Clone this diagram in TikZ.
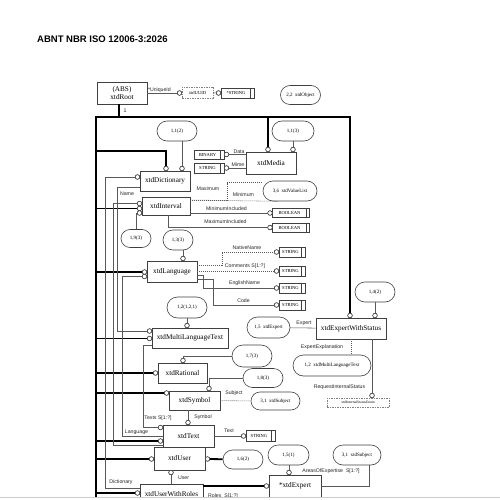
\documentclass[tikz,border=0pt]{standalone}
\usepackage{fontspec}
\setmainfont{Liberation Serif}
\newfontfamily\lab{Liberation Sans}
\usetikzlibrary{shapes.misc}
\begin{document}
\begin{tikzpicture}[x=1pt,y=-1pt,
  cls/.style={draw=black!75, line width=0.6pt, fill=white, inner sep=0pt, font=\fontsize{7.2}{8}\selectfont},
  dcls/.style={draw=black!50, line width=0.5pt, dash pattern=on 1.5pt off 1pt, fill=white, inner sep=0pt},
  ref/.style={rounded rectangle, draw=black!75, line width=0.6pt, fill=white, inner sep=0pt, font=\fontsize{5}{6}\selectfont},
  typ/.style={draw=black!75, line width=0.5pt, fill=white, inner sep=0pt, minimum width=26pt, minimum height=10pt,
    font=\fontsize{4.6}{5}\selectfont,
    path picture={\draw[black!75, line width=0.4pt] ([xshift=-3.5pt]path picture bounding box.north east) -- ([xshift=-3.5pt]path picture bounding box.south east);}},
  circ/.style={circle, draw=black!80, fill=white, line width=0.5pt, inner sep=0pt, minimum size=4.5pt},
  bus/.style={line width=1.8pt, black},
  rel/.style={line width=0.55pt, black!65},
  opt/.style={rel, dash pattern=on 1pt off 1pt},
  lbl/.style={font=\lab\fontsize{5.2}{6}\selectfont, inner sep=0.3pt, text=black!85}
]
\useasboundingbox (0,0) rectangle (500,500);
\fill[white] (0,0) rectangle (500,500);

% title
\node[anchor=west, inner sep=0pt, font=\lab\bfseries\fontsize{9.5}{10}\selectfont] (title) at (37,39) {ABNT NBR ISO 12006-3:2026};

% ---------- nodes ----------
\node[cls, minimum width=50pt, minimum height=22pt, align=center] (root) at (122,93) {(ABS)\\xtdRoot};
\node[dcls, minimum width=31pt, minimum height=11pt, font=\fontsize{4.6}{5}\selectfont] (uuid) at (197.5,92.5) {xtdUUID};
\node[typ, minimum width=33pt] (str0) at (237.5,93) {*STRING\hspace*{3pt}};

\node[ref, minimum width=40pt, minimum height=19pt] (ovC) at (300.5,95) {2,2\ \ xtdObject};

\node[ref, minimum width=40pt, minimum height=20pt] (ovA) at (177,131) {1,1(2)};
\node[ref, minimum width=42pt, minimum height=20pt] (ovB) at (293,131) {1,1(3)};

\node[cls, minimum width=50pt, minimum height=20pt] (dict) at (165,181) {xtdDictionary};
\node[cls, minimum width=50pt, minimum height=22pt] (media) at (271,163) {xtdMedia};
\node[typ, minimum width=30pt, minimum height=9pt] (bin) at (209,154.5) {BINARY\hspace*{3pt}};
\node[typ, minimum width=30pt] (strM) at (209,168) {STRING\hspace*{3pt}};

\node[cls, minimum width=48pt, minimum height=18pt] (int) at (166,206) {xtdInterval};
\node[ref, minimum width=54pt, minimum height=20pt] (ovE) at (290,191) {3,6\ \ xtdValueList};
\node[typ, minimum width=37pt, minimum height=9pt] (bo1) at (291,213) {BOOLEAN\hspace*{3pt}};
\node[typ, minimum width=37pt, minimum height=9pt] (bo2) at (291,227.5) {BOOLEAN\hspace*{3pt}};
\node[ref, minimum width=30pt, minimum height=18pt] (ovD) at (136,238.5) {1,9(3)};
\node[ref, minimum width=30pt, minimum height=20pt] (ovF) at (178,240) {1,3(3)};

\node[cls, minimum width=50pt, minimum height=21pt] (lang) at (172,271.5) {xtdLanguage};
\node[typ] (st1) at (292,252) {STRING\hspace*{3pt}};
\node[typ] (st2) at (292,271) {STRING\hspace*{3pt}};
\node[typ] (st3) at (292,288) {STRING\hspace*{3pt}};
\node[typ] (st4) at (292,305) {STRING\hspace*{3pt}};

\node[ref, minimum width=40pt, minimum height=21pt] (ovG) at (187,307.5) {1,2(1,2,1)};
\node[cls, minimum width=76pt, minimum height=20pt] (mlt) at (190,338) {xtdMultiLanguageText};
\node[ref, minimum width=43pt, minimum height=21pt] (ovH) at (268.5,327.5) {1,5\ \ xtdExpert};
\node[ref, minimum width=40pt, minimum height=20pt] (ovI) at (375,292) {1,4(2)};
\node[cls, minimum width=70pt, minimum height=21pt] (ews) at (351,328.5) {xtdExpertWithStatus};
\node[ref, minimum width=78pt, minimum height=21pt] (ovJ) at (332,365.5) {1,2\ \ xtdMultiLanguageText};
\node[dcls, minimum width=62pt, minimum height=9pt, font=\fontsize{3.6}{4}\selectfont] (enum) at (358,402.5) {xtdInternalStatusEnum};

\node[ref, minimum width=40pt, minimum height=22pt] (ovK) at (252,356) {1,7(3)};
\node[cls, minimum width=49pt, minimum height=20pt] (rat) at (182.5,373) {xtdRational};
\node[ref, minimum width=40pt, minimum height=19pt] (ovL) at (263,378) {1,8(3)};
\node[cls, minimum width=51pt, minimum height=19pt] (sym) at (194.5,400.5) {xtdSymbol};
\node[ref, minimum width=49pt, minimum height=18pt] (ovM) at (275.5,401) {3,1\ \ xtdSubject};

\node[cls, minimum width=51pt, minimum height=22pt] (txt) at (188.5,436) {xtdText};
\node[typ, minimum width=29pt, minimum height=11pt] (st5) at (260.5,436) {STRING\hspace*{3pt}};

\node[cls, minimum width=51pt, minimum height=23pt] (usr) at (179.5,458.5) {xtdUser};
\node[ref, minimum width=40pt, minimum height=19pt] (ovN) at (243,459.5) {1,6(2)};
\node[cls, minimum width=63pt, minimum height=20pt] (uwr) at (171.5,494) {xtdUserWithRoles};
\node[cls, minimum width=52pt, minimum height=22pt] (xe) at (295,486) {*xtdExpert};
\node[ref, minimum width=41pt, minimum height=20pt] (ovO) at (288.5,455) {1,5(1)};
\node[ref, minimum width=48pt, minimum height=20pt] (ovP) at (357,455) {3,1\ \ xtdSubject};

% ---------- circles ----------
\node[circ] (cUUID) at (179.5,93) {};
\node[circ] (cSTR0) at (218.5,93) {};
\node[circ] (cDict1) at (166,168.5) {};
\node[circ] (cDict2) at (182,168.5) {};
\node[circ] (cDict3) at (137.5,177) {};
\node[circ] (cMed1) at (268,149.5) {};
\node[circ] (cMed2) at (293,149.5) {};
\node[circ] (cBin) at (226.5,154.5) {};
\node[circ] (cStrM) at (226.5,168) {};
\node[circ] (cInt1) at (139.5,203.5) {};
\node[circ] (cInt2) at (139.5,208.5) {};
\node[circ] (cInt3) at (139.5,213) {};
\node[circ] (cBo1) at (270,213) {};
\node[circ] (cBo2) at (270,227.5) {};
\node[circ] (cLang1) at (144.5,272) {};
\node[circ] (cLang2) at (144.5,276.5) {};
\node[circ] (cLang3) at (183,258.5) {};
\node[circ] (cSt1) at (276.5,252) {};
\node[circ] (cSt2) at (276.5,271) {};
\node[circ] (cSt3) at (276.5,288) {};
\node[circ] (cSt4) at (276.5,305) {};
\node[circ] (cMLT1) at (149.5,331) {};
\node[circ] (cMLT2) at (149.5,338.5) {};
\node[circ] (cMLT3) at (187,325.5) {};
\node[circ] (cEWS1) at (350,315.5) {};
\node[circ] (cEWS2) at (375,315.5) {};
\node[circ] (cRIS) at (372,395.5) {};
\node[circ] (cRat1) at (155.5,373) {};
\node[circ] (cRat2) at (183,360.5) {};
\node[circ] (cSym1) at (166.5,393) {};
\node[circ] (cSym2) at (209,388.5) {};
\node[circ] (cTxt1) at (160.5,427.5) {};
\node[circ] (cTxt2) at (160.5,441) {};
\node[circ] (cTxt3) at (188,422.5) {};
\node[circ] (cSt5) at (243.5,436) {};
\node[circ] (cUsr1) at (151.5,459) {};
\node[circ] (cUsr2) at (207.5,459) {};
\node[circ] (cUsr3) at (171,472.5) {};
\node[circ] (cUWR) at (137.5,493) {};
\node[circ] (cXE1) at (266.5,486) {};
\node[circ] (cXE2) at (289,472.5) {};

% ---------- bus coordinates ----------
\coordinate (tl) at (96,117);
\coordinate (tr) at (350,117);
\coordinate (bl) at (96,505);
\coordinate (bDict) at (96,151);

% ---------- thick bus ----------
\draw[bus] ([xshift=-3pt]root.south) |- (tl);
\draw[bus] (bl) -- (tl) -- (tr) -- (cEWS1);
\draw[bus] (tl -| cMed1) -- (cMed1);
\draw[bus] (bDict) -| (cDict1);
\draw[bus] (bl |- cInt2) -- (cInt2);
\draw[bus] (bl |- cLang1) -- (cLang1);
\draw[bus] (bl |- cMLT2) -- (cMLT2);
\draw[bus] (bl |- cRat1) -- (cRat1);
\draw[bus] (bl |- cSym1) -- (cSym1);
\draw[bus] (bl |- cTxt2) -- (cTxt2);
\draw[bus] (bl |- cUsr1) -- (cUsr1);
\draw[bus] (bl |- cUWR) -- (cUWR);
\draw[bus] (cUsr2) -- (ovN);
\draw[bus] (uwr.east |- cXE1) -- (cXE1);
\node[lbl, anchor=west] (one) at (123,111) {1};

% ---------- thin relations ----------
\draw[rel] (root.east |- cUUID) -- (cUUID);
\node[lbl, anchor=south west] (lUid) at (147.5,93) {*UniqueId};
\draw[rel] (uuid) -- (cSTR0);

\draw[rel] (ovA.south -| cDict2) -- (cDict2);
\draw[rel] (ovB.south -| cMed2) -- (cMed2);
\draw[rel] (media.west |- cBin) -- (cBin);
\node[lbl, anchor=south] (lData) at (239,154) {Data};
\draw[rel] (media.west |- cStrM) -- (cStrM);
\node[lbl, anchor=south] (lMime) at (238,167.5) {Mime};

\draw[opt] (int.east |- 0,200) -- (227,200) -- (227,182.5) -- (ovE.west |- 0,182.5);
\draw[opt] (int.east |- 0,200) -- ([xshift=5pt]ovE.south west);
\node[lbl] (lMax) at (208,188.5) {Maximum};
\node[lbl] (lMin) at (243.5,194.5) {Minimum};
\draw[rel] (int.east |- cBo1) -- (cBo1);
\node[lbl] (lMinI) at (226.5,208.5) {MinimumIncluded};
\draw[rel] ([xshift=2pt]int.south) |- (cBo2);
\node[lbl] (lMaxI) at (225.5,222) {MaximumIncluded};
\draw[rel] (ovD.north) |- (cInt3);
\draw[rel] (ovF.south -| cLang3) -- (cLang3);

\draw[rel] (dict.west |- 0,187) -- (117,187) |- (cMLT1);
\node[lbl] (lName) at (127,194) {Name};
\draw[rel] (uwr.west |- 0,488) -- (105,488) |- (cDict3);
\node[lbl] (lDict) at (121,482) {Dictionary};
\draw[rel] (txt.west |- 0,445) -- (113,445) |- (cInt1);

\draw[opt] (lang.east |- 0,265) -- (222,265) |- (cSt1);
\node[lbl] (lNat) at (247,247.5) {NativeName};
\draw[opt] (lang.east |- cSt2) -- (cSt2);
\node[lbl] (lCom) at (245,266.5) {Comments S[1:?]};
\draw[rel] (lang.east |- 0,275.5) -- (203,275.5) |- (cSt3);
\node[lbl] (lEng) at (244.5,283.5) {EnglishName};
\draw[rel] (lang.east |- 0,279) -- (213,279) |- (cSt4);
\node[lbl] (lCode) at (243.5,300.5) {Code};

\draw[rel] (ovG.south) -- (cMLT3);
\draw[rel] (mlt.west |- 0,345) -- (143,345) |- (cTxt1);
\node[lbl] (lTexts) at (158,418.5) {Texts S[1:?]};

\draw[rel] (ovH) -- (ews);
\node[lbl] (lExp) at (304,323) {Expert};
\draw[rel] (ovI.south -| cEWS2) -- (cEWS2);
\draw[opt] (ews.south) -- (ews.south |- ovJ.north);
\node[lbl] (lExpl) at (322,347.5) {ExpertExplanation};
\draw[rel] ([xshift=21pt]ews.south) -- (cRIS);
\node[lbl] (lRIS) at (339.5,387.5) {RequestInternalStatus};

\draw[rel] (ovK.west) -| (cRat2);
\draw[rel] (ovL.west) -| (cSym2);
\draw[opt] (sym) -- (ovM);
\node[lbl] (lSub) at (234,393.5) {Subject};
\draw[rel] (sym.south -| cTxt3) -- (cTxt3);
\node[lbl] (lSym) at (203,417) {Symbol};
\draw[rel] (txt.west |- 0,436.5) -- (122,436.5) |- (cLang2);
\node[lbl] (lLang) at (136.5,432) {Language};
\draw[rel] (txt.east) -- (cSt5);
\node[lbl] (lText) at (229,430.5) {Text};

\draw[rel] (uwr.north -| cUsr3) -- (cUsr3);
\node[lbl] (lUser) at (183.5,477.5) {User};
\draw[rel] (ovO.south -| cXE2) -- (cXE2);
\draw[rel] (xe.east) -| ([xshift=12pt]ovP.south);
\node[lbl] (lAoE) at (331,471) {AreasOfExpertise\ \ S[1:?]};
\node[lbl] (lRoles) at (223,496.5) {Roles\ \ S[1:?]};

% redraw circles on top
\foreach \c in {cUUID,cSTR0,cDict1,cDict2,cDict3,cMed1,cMed2,cBin,cStrM,cInt1,cInt2,cInt3,cBo1,cBo2,cLang1,cLang2,cLang3,cSt1,cSt2,cSt3,cSt4,cMLT1,cMLT2,cMLT3,cEWS1,cEWS2,cRIS,cRat1,cRat2,cSym1,cSym2,cTxt1,cTxt2,cTxt3,cSt5,cUsr1,cUsr2,cUsr3,cUWR,cXE1,cXE2}
  {\draw[black!80, fill=white, line width=0.5pt] (\c) circle (2.25pt);}

\fill[white] (0,497.5) rectangle (500,500);
\draw[black!20, line width=0.6pt] (0,497.5) -- (500,497.5);
\end{tikzpicture}
\end{document}
